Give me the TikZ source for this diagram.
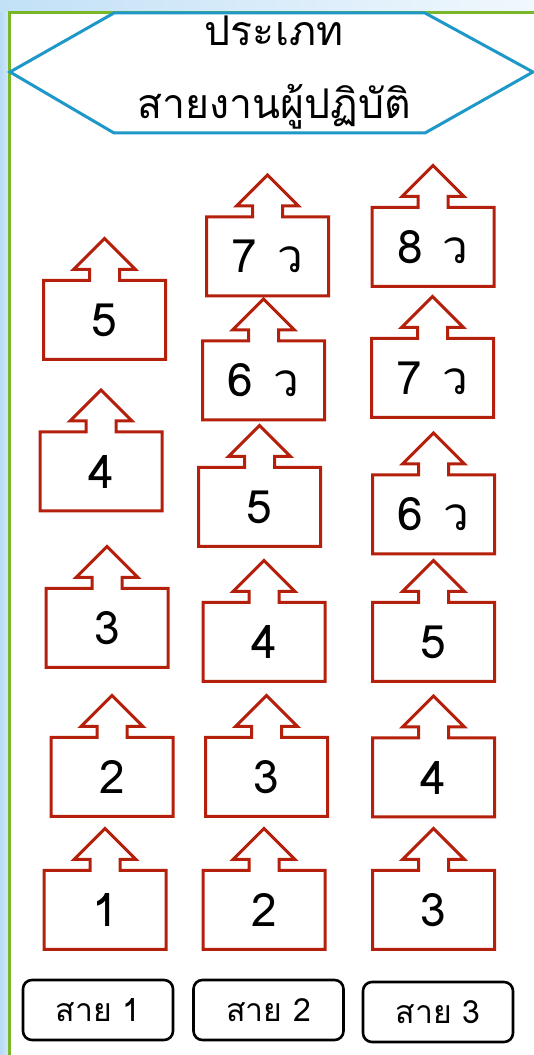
\documentclass[tikz,border=0pt]{standalone}
\usepackage{fontspec}
\newfontfamily\thaifont[Script=Thai]{Loma}
\definecolor{framegreen}{RGB}{122,183,40}
\definecolor{hexblue}{RGB}{30,152,200}
\definecolor{boxred}{RGB}{181,32,12}
\definecolor{skyblue}{RGB}{183,219,245}
\tikzset{
  upbox/.style={minimum width=122pt, minimum height=79pt, inner sep=0pt, outer sep=0pt,
    font=\thaifont\fontsize{46}{50}\selectfont},
  upline/.style={draw=boxred, line width=3pt, line join=miter},
  linebox/.style={draw=black, line width=2.6pt, rounded corners=9pt, minimum width=150pt,
    minimum height=60pt, inner sep=0pt, font=\thaifont\fontsize{32}{36}\selectfont},
}
\begin{document}
\begin{tikzpicture}[x=1pt,y=1pt]
  \useasboundingbox (0,0) rectangle (534,1055);
  % background strips outside the green frame
  \fill[white] (0,0) rectangle (534,1055);
  \shade[left color=skyblue, right color=skyblue!55!white] (0,0) rectangle (10,1055);
  \shade[left color=skyblue!85!white, right color=skyblue!20!white] (0,1043) rectangle (534,1055);
  \draw[framegreen, line width=3pt] (9.5,0) -- (9.5,1042.5) -- (534,1042.5);

  % title hexagon
  \draw[hexblue, line width=3pt, line join=miter]
    (10,983) -- (114,1042) -- (425,1042) -- (533,983) -- (425,922) -- (114,922) -- cycle;
  \node[font=\thaifont\fontsize{41}{73}\selectfont, align=center] (title) at (274,982)
    {ประเภท\\สายงานผู้ปฏิบัติ};

  % boxes with upward arrows: name/x/y/label
  \foreach \n/\x/\y/\t in {
      a5/104.5/735/5, a4/101/583.5/4, a3/107/427/3, a2/112/278/2, a1/105/145/1,
      b7/267.5/798.5/{7\hspace{20pt}ว}, b6/263.5/674.5/{6\hspace{20pt}ว}, b5/259.5/548/5,
      b4/264/413/4, b3/266.5/278/3, b2/264/145/2,
      c8/433/808/{8\hspace{20pt}ว}, c7/432.5/677/{7\hspace{20pt}ว}, c6/433.5/540.5/{6\hspace{20pt}ว},
      c5/433.5/413/5, c4/433.5/277.5/4, c3/433.5/145/3} {
    \node[upbox] (\n) at (\x,\y) {\t};
    \draw[upline] (\n.south west) -- (\n.north west) -- ++(46,0) -- ++(0,11) -- ++(-16,0)
      -- ++(31,31) -- ++(31,-31) -- ++(-16,0) -- ++(0,-11) -- (\n.north east)
      -- (\n.south east) -- cycle;
  }

  % line labels
  \node[linebox] (line1) at (98,45) {สาย 1};
  \node[linebox] (line2) at (268.5,45) {สาย 2};
  \node[linebox] (line3) at (438,43) {สาย 3};
\end{tikzpicture}
\end{document}
